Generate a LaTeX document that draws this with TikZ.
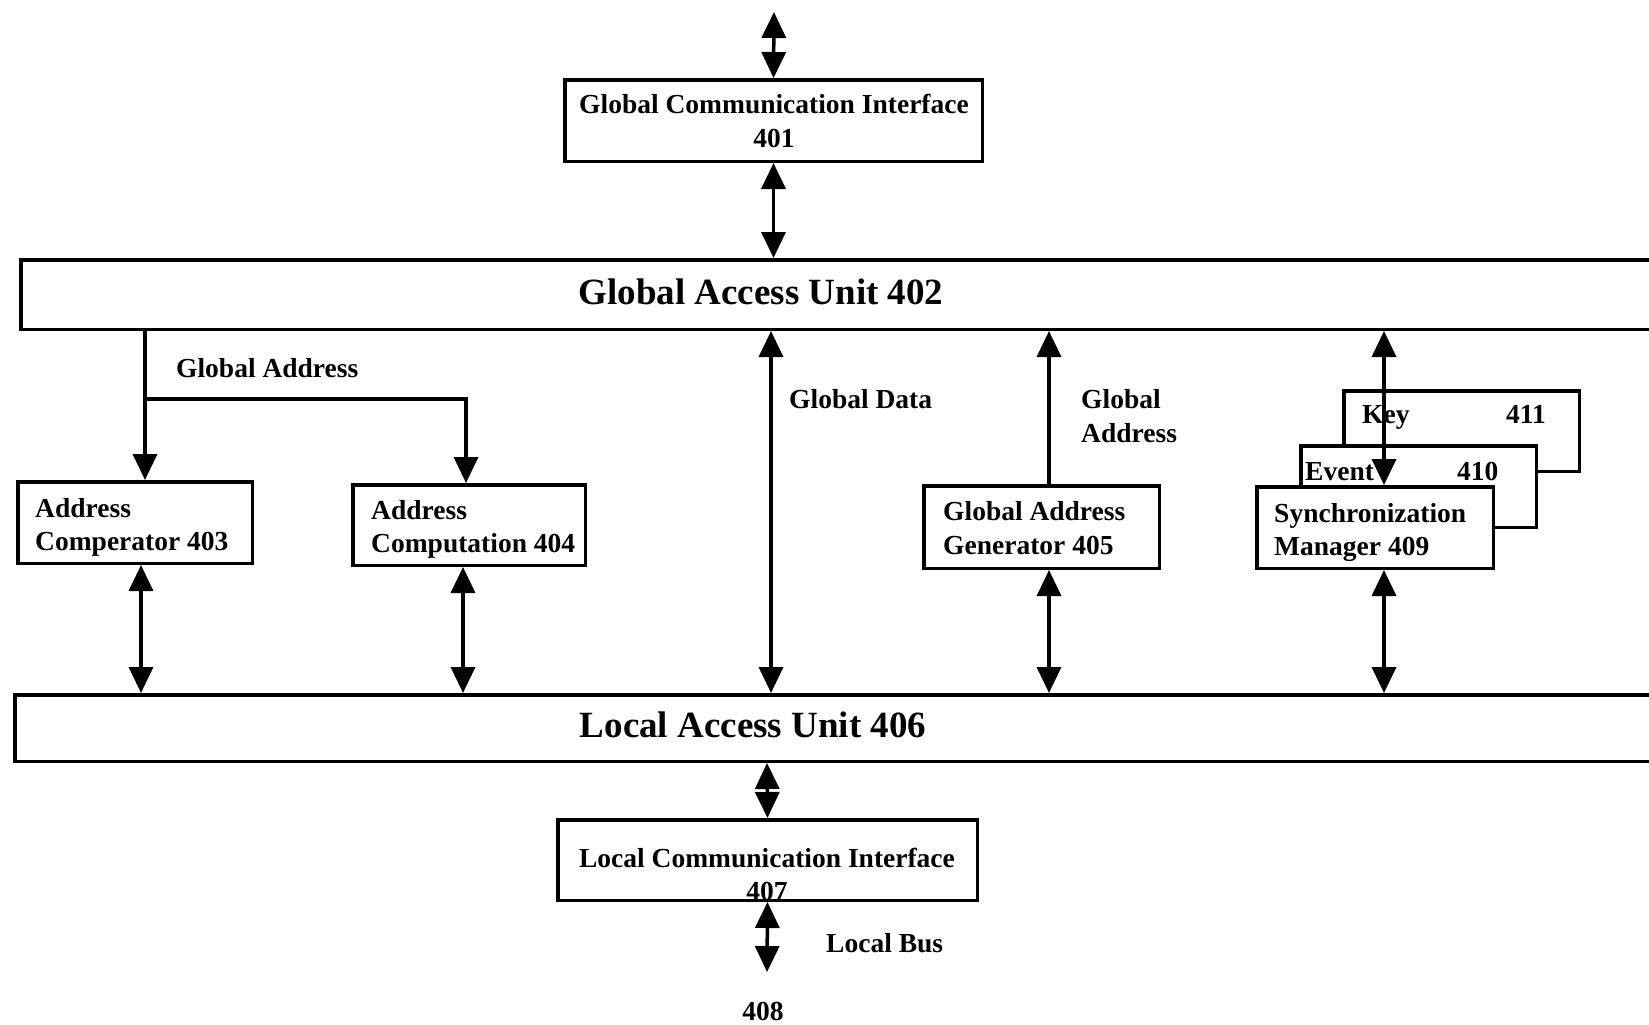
\documentclass[tikz,border=0pt]{standalone}
\usepackage{fontspec}
\setmainfont{Liberation Serif}
\usetikzlibrary{arrows.meta}
\begin{document}
\begin{tikzpicture}[x=1pt,y=-1pt,
  box/.style={draw, line width=3.5pt, fill=white, inner sep=0pt, anchor=north west},
  lbl/.style={font=\fontsize{27.5}{33}\selectfont\bfseries, inner sep=0pt},
  big/.style={font=\fontsize{37}{44}\selectfont\bfseries, inner sep=0pt},
  conn/.style={line width=3.5pt, -{Triangle[width=24pt,length=26pt]}},
  dconn/.style={line width=3.5pt, {Triangle[width=24pt,length=26pt]}-{Triangle[width=24pt,length=26pt]}}]
\useasboundingbox (0,0) rectangle (1649,1025);
% bars
\node[box, minimum width=1700pt, minimum height=69.5pt] (gau) at (19,258) {};
\node[box, minimum width=1700pt, minimum height=66.5pt] (lau) at (13,693) {};
\node[big, anchor=base] (gaut) at (761,304) {Global Access Unit 402};
\node[big, anchor=base] (laut) at (753,737) {Local Access Unit 406};
% boxes
\node[box, minimum width=417.5pt, minimum height=81.5pt] (gci) at (563,78) {};
\node[box, minimum width=234.5pt, minimum height=81.5pt] (b403) at (16,480) {};
\node[box, minimum width=232.5pt, minimum height=80.5pt] (b404) at (351,483) {};
\node[box, minimum width=235.5pt, minimum height=82.5pt] (b405) at (922,484) {};
\node[box, minimum width=235.5pt, minimum height=80.5pt] (key) at (1342,389) {};
\node[box, minimum width=235.5pt, minimum height=81.5pt] (event) at (1299,444) {};
\node[box, minimum width=236.5pt, minimum height=81.5pt] (sync) at (1255,485) {};
\node[box, minimum width=419.5pt, minimum height=80.5pt] (lci) at (556,818) {};
% texts
\node[lbl, anchor=base] (gcit1) at (774,113) {Global Communication Interface};
\node[lbl, anchor=base] (gcit2) at (774,147) {401};
\node[lbl, anchor=base west] (t403a) at (35,517) {Address};
\node[lbl, anchor=base west] (t403b) at (35,550) {Comperator 403};
\node[lbl, anchor=base west] (t404a) at (371,519) {Address};
\node[lbl, anchor=base west] (t404b) at (371,552) {Computation 404};
\node[lbl, anchor=base west] (t405a) at (943,520) {Global Address};
\node[lbl, anchor=base west] (t405b) at (943,554) {Generator 405};
\node[lbl, anchor=base west] (tkey) at (1362,423) {Key};
\node[lbl, anchor=base west] (tkeyn) at (1506,423) {411};
\node[lbl, anchor=base west] (tev) at (1305,480) {Event};
\node[lbl, anchor=base west] (tevn) at (1457,480) {410};
\node[lbl, anchor=base west] (tsa) at (1274,522) {Synchronization};
\node[lbl, anchor=base west] (tsb) at (1274,555) {Manager 409};
\node[lbl, anchor=base] (lcit1) at (767,867) {Local Communication Interface};
\node[lbl, anchor=base] (lcit2) at (767,900) {407};
\node[lbl, anchor=base west] (lga) at (176,377) {Global Address};
\node[lbl, anchor=base west] (lgd) at (789,408) {Global Data};
\node[lbl, anchor=base west] (lga2a) at (1081,408) {Global};
\node[lbl, anchor=base west] (lga2b) at (1081,442) {Address};
\node[lbl, anchor=base west] (lbus) at (826,952) {Local Bus};
\node[lbl, anchor=base] (l408) at (763,1020) {408};
% coordinates
\coordinate (topend) at (774,12);
\coordinate (busend) at (767,972);
\coordinate (jn) at (145,399);
\coordinate (xa) at (145,0);
\coordinate (xb) at (466,0);
\coordinate (xd) at (771,0);
\coordinate (xg) at (1049,0);
\coordinate (xs) at (1384,0);
\coordinate (x1) at (141,0);
\coordinate (x2) at (463,0);
\coordinate (xl) at (767,0);
% connectors
\draw[dconn] (topend) -- (gci.north);
\draw[dconn] (gci.south) -- (gci.south |- gau.north);
\draw[conn] (xa |- gau.south) -- (xa |- b403.north);
\draw[conn, line join=miter] (jn) -| (xb |- b404.north);
\draw[dconn] (xd |- gau.south) -- (xd |- lau.north);
\draw[conn] (xg |- b405.north) -- (xg |- gau.south);
\draw[dconn] (xs |- gau.south) -- (xs |- sync.north);
\draw[dconn] (x1 |- b403.south) -- (x1 |- lau.north);
\draw[dconn] (x2 |- b404.south) -- (x2 |- lau.north);
\draw[dconn] (xg |- b405.south) -- (xg |- lau.north);
\draw[dconn] (xs |- sync.south) -- (xs |- lau.north);
\draw[dconn] (xl |- lau.south) -- (lci.north);
\draw[dconn] (lci.south) -- (busend);
\end{tikzpicture}
\end{document}
